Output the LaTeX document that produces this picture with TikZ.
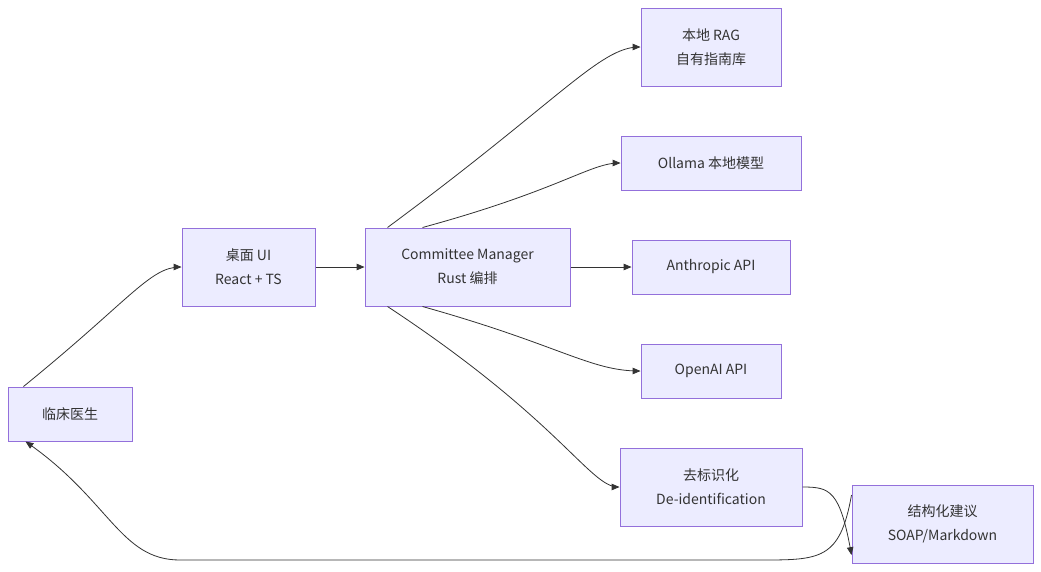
\documentclass[tikz,border=0pt]{standalone}
\usepackage{fontspec}
\setmainfont{Noto Sans CJK SC}
\usetikzlibrary{arrows}
\definecolor{boxfill}{HTML}{ECECFF}
\definecolor{boxline}{HTML}{9370DB}
\definecolor{ink}{HTML}{333333}
\tikzset{
  box/.style={draw=boxline,fill=boxfill,line width=1pt,text=ink,align=center,
    inner sep=0pt,font=\fontsize{14}{24}\selectfont},
  link/.style={->,draw=ink,line width=0.8pt}
}
\begin{document}
\begin{tikzpicture}[x=1pt,y=-1pt,>=triangle 45]
  \useasboundingbox (0,0) rectangle (1041,571);
  \node[box,minimum width=124,minimum height=54] (doc) at (70,414) {临床医生};
  \node[box,minimum width=133,minimum height=78] (ui) at (248.5,267) {桌面 UI\\React + TS};
  \node[box,minimum width=205,minimum height=78] (cm) at (467.5,267) {Committee Manager\\Rust 编排};
  \node[box,minimum width=140,minimum height=78] (rag) at (711,47) {本地 RAG\\自有指南库};
  \node[box,minimum width=180,minimum height=54] (oll) at (711,163) {Ollama 本地模型};
  \node[box,minimum width=158,minimum height=54] (anth) at (711,267) {Anthropic API};
  \node[box,minimum width=140,minimum height=54] (oai) at (711,371) {OpenAI API};
  \node[box,minimum width=182,minimum height=78] (deid) at (711,487) {去标识化\\De-identification};
  \node[box,minimum width=181,minimum height=78] (soap) at (942.5,524) {结构化建议\\SOAP/Markdown};
  % edges
  \draw[link] ([xshift=16pt]doc.north west) .. controls (130,300) and (150,267) .. (ui.west);
  \draw[link] (ui) -- (cm);
  \draw[link] (cm.east) -- (anth.west);
  \draw[link] ([xshift=-80pt]cm.north) .. controls (560,100) and (600,47) .. (rag.west);
  \draw[link] ([xshift=-45pt]cm.north) .. controls (560,190) and (590,163) .. (oll.west);
  \draw[link] ([xshift=-45pt]cm.south) .. controls (560,345) and (590,371) .. (oai.west);
  \draw[link] ([xshift=-80pt]cm.south) .. controls (560,420) and (590,487) .. (deid.west);
  \draw[link] (deid.east) .. controls (830,487) and (840,490) .. ([yshift=-31pt]soap.west);
  \draw[link] ([yshift=29pt]soap.west) .. controls (840,560) and (820,560) .. (760,560)
    -- (180,560) .. controls (120,560) and (110,500) .. ([xshift=18pt]doc.south west);
\end{tikzpicture}
\end{document}
